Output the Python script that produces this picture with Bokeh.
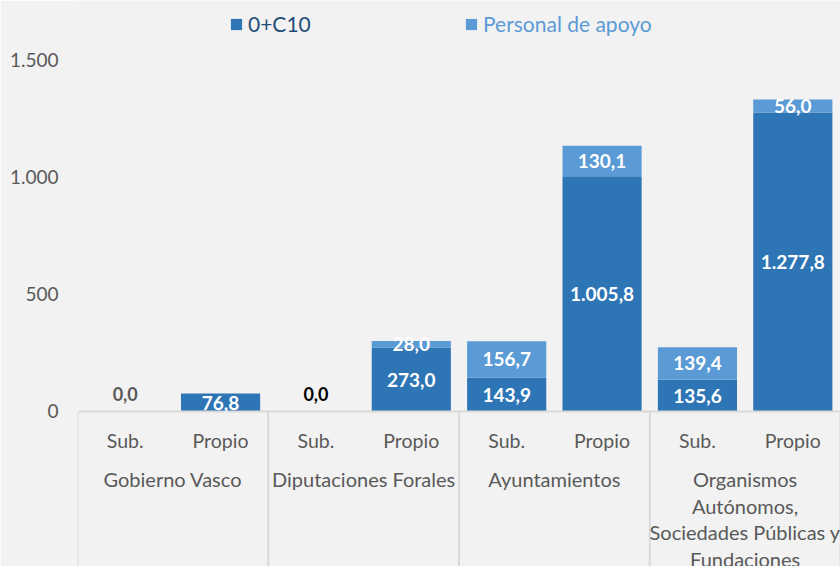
from bokeh.plotting import figure
from bokeh.models import Range1d, FixedTicker, Legend, LegendItem, ColumnDataSource
from bokeh.core.properties import value
from bokeh.embed import file_html
from bokeh.resources import INLINE

# ---- data ----
groups = ["Gobierno Vasco", "Diputaciones Forales", "Ayuntamientos",
          "Organismos\nAutónomos,\nSociedades Públicas y\nFundaciones"]
subcats = ["Sub.", "Propio"]
c10 = [0.0, 76.8, 0.0, 273.0, 143.9, 1005.8, 135.6, 1277.8]
apoyo = [0.0, 0.0, 0.0, 28.0, 156.7, 130.1, 139.4, 56.0]
series_names = ["0+C10", "Personal de apoyo"]
ytick_values = [0, 500, 1000, 1500]
ytick_labels = ["0", "500", "1.000", "1.500"]

# ---- style ----
BG = "#F2F2F2"
DARK = "#2E75B6"
LIGHT = "#5B9BD5"
GRAY = "#595959"
LINE = "#D9D9D9"
FONT = "Lato"
Y0, Y1 = -662.4, 1756.4


def fmt(v):
    s = f"{v:,.1f}"
    return s.replace(",", "X").replace(".", ",").replace("X", ".")


n = len(c10)
xs = [i + 0.5 for i in range(n)]
sub_labels = [subcats[i % 2] for i in range(n)]

p = figure(width=840, height=566, output_backend="svg", toolbar_location=None,
           x_range=Range1d(0, 8), y_range=Range1d(Y0, Y1),
           background_fill_color=BG, border_fill_color=BG)
p.min_border_left = 77
p.min_border_right = 0
p.min_border_top = 0
p.min_border_bottom = 0
p.outline_line_color = None
p.grid.visible = False
p.xaxis.visible = False

ya = p.yaxis[0]
ya.ticker = FixedTicker(ticks=ytick_values)
ya.major_label_overrides = {v: l for v, l in zip(ytick_values, ytick_labels)}
ya.axis_line_color = None
ya.major_tick_line_color = None
ya.minor_tick_line_color = None
ya.major_label_standoff = 13
ya.major_label_text_font = FONT
ya.major_label_text_font_size = "19px"
ya.major_label_text_color = GRAY

src = ColumnDataSource(dict(x=xs, c10=c10, apoyo=apoyo))
rs = p.vbar_stack(["c10", "apoyo"], x="x", width=0.83, source=src,
                  color=[DARK, LIGHT], line_color=None)

# separators
p.segment(x0=[0, 2, 4, 6, 8], y0=0, x1=[0, 2, 4, 6, 8], y1=Y0,
          line_color=LINE, line_width=2)
p.segment(x0=[0], y0=[0], x1=[8], y1=[0], line_color=LINE, line_width=2)

# data labels
lx, ly, lt = [], [], []
for i in range(n):
    if c10[i] > 0:
        lx.append(xs[i]); ly.append(c10[i] / 2); lt.append(fmt(c10[i]))
    if apoyo[i] > 0:
        lx.append(xs[i]); ly.append(c10[i] + apoyo[i] / 2); lt.append(fmt(apoyo[i]))
p.text(x=lx, y=ly, text=lt, text_align="center", text_baseline="middle",
       text_color="white", text_font=value(FONT), text_font_style="bold",
       text_font_size="19px")

zero_colors = [GRAY, "#000000"]
zx, zt = [], []
for i in range(n):
    if c10[i] + apoyo[i] == 0:
        zx.append(xs[i]); zt.append(fmt(0.0))
p.text(x=zx, y=[0] * len(zx), text=zt, y_offset=-17, text_align="center",
       text_baseline="middle", text_color=zero_colors[:len(zx)],
       text_font=value(FONT), text_font_style="bold", text_font_size="18px")

# category labels
p.text(x=xs, y=[0] * n, text=sub_labels, y_offset=29, text_align="center",
       text_baseline="middle", text_color=GRAY, text_font=value(FONT),
       text_font_size="19.5px")
gx = [2 * g + 1 for g in range(len(groups))]
p.text(x=gx, y=[0] * len(groups), text=groups, y_offset=56, text_align="center",
       text_baseline="top", text_color=GRAY, text_font=value(FONT),
       text_font_size="20px", text_line_height=1.1)

# legends
leg_colors = ["#1F4E79", LIGHT]
leg_x = [152, 387]
for r, name, col, lxp in zip(rs, series_names, leg_colors, leg_x):
    leg = Legend(items=[LegendItem(label=name, renderers=[r])],
                 location=(lxp, 530), orientation="horizontal",
                 background_fill_alpha=0, border_line_color=None,
                 glyph_width=14, glyph_height=14, label_standoff=5,
                 padding=0, margin=0, spacing=0,
                 label_text_font=FONT, label_text_font_size="21px",
                 label_text_color=col)
    p.add_layout(leg)

open("out.html", "w").write(file_html(p, INLINE))
